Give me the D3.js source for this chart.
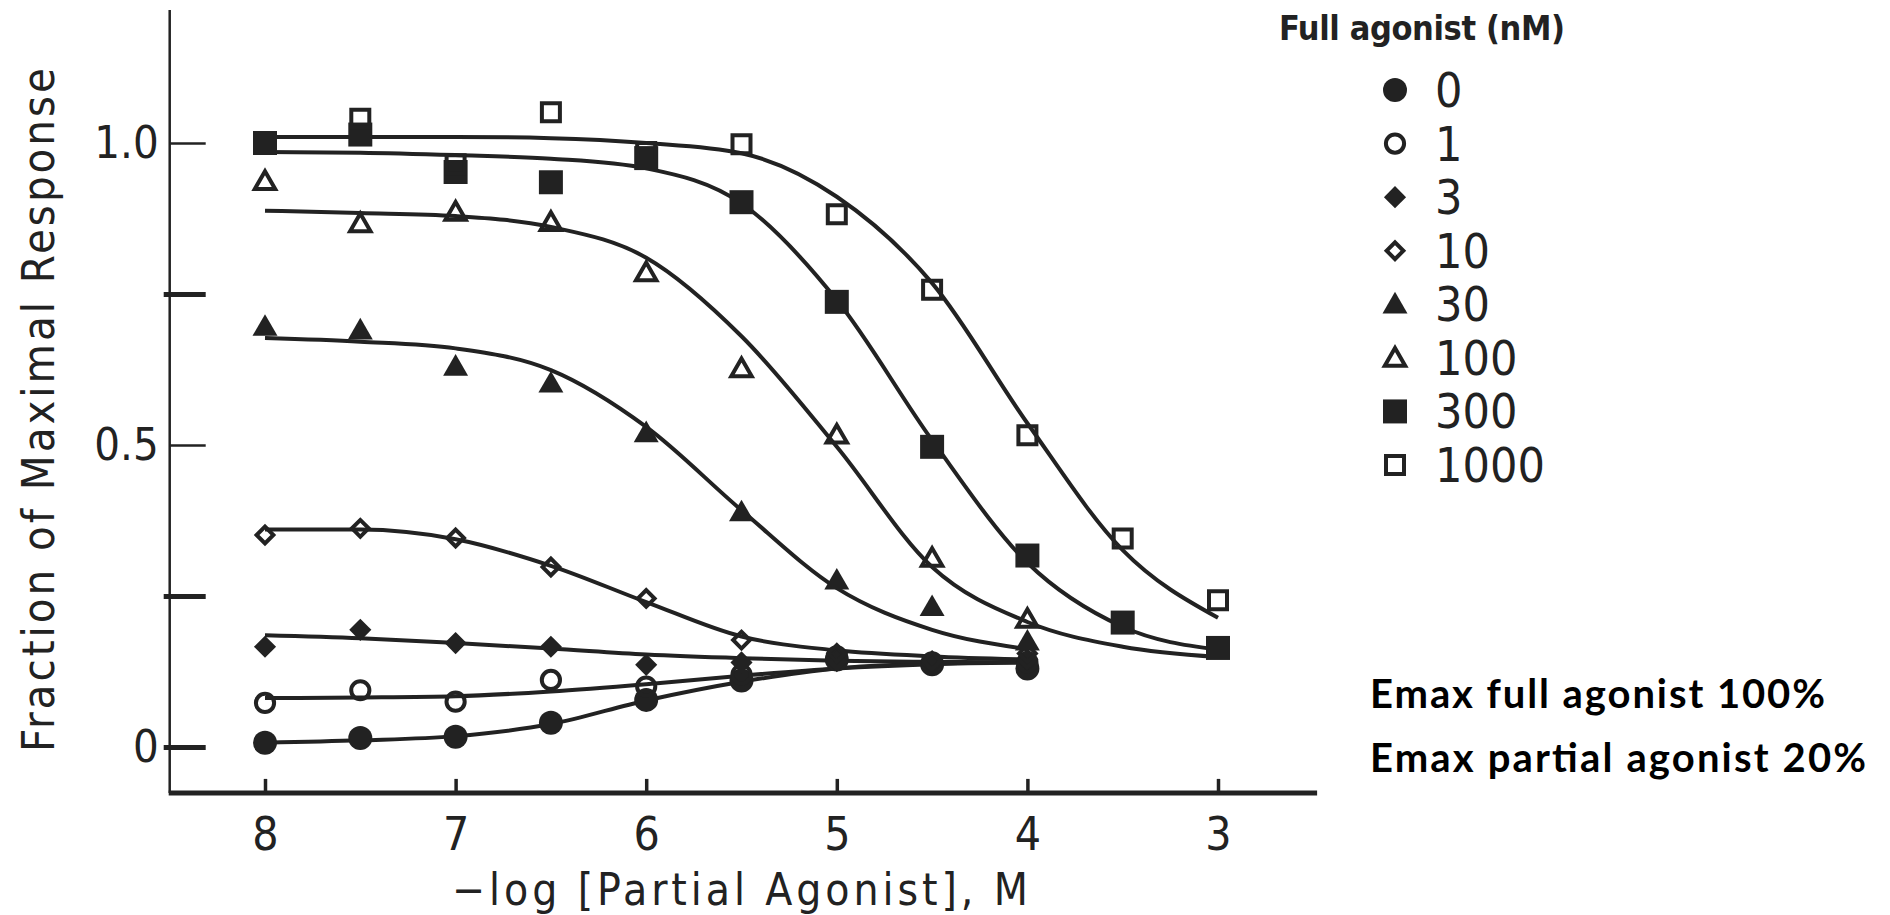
<!DOCTYPE html>
<html>
<head>
<meta charset="utf-8">
<title>Partial agonist curves</title>
<script src="https://d3js.org/d3.v7.min.js"></script>
<style>
  body { margin: 0; background: #fff; }
  svg { display: block; }
  .old { font-family: "DejaVu Sans Condensed", "DejaVu Sans", sans-serif; font-stretch: condensed; fill: #222; }
  .note { font-family: Lato, "Open Sans", sans-serif; font-weight: 700; fill: #000; }
</style>
</head>
<body>
<svg id="chart" width="1890" height="915"></svg>
<script>
// -log [partial agonist] positions
var doses = [8, 7.5, 7, 6.5, 6, 5.5, 5, 4.5, 4, 3.5, 3];
var agonist = ["0", "1", "3", "10", "30", "100", "300", "1000"];

// measured points (fraction of max response), one array per full agonist conc.
var pts0    = [0.007, 0.015, 0.017, 0.040, 0.078, 0.110, 0.145, 0.137, 0.130];
var pts1    = [0.073, 0.094, 0.075, 0.111, 0.100, 0.120, 0.150, 0.140, 0.140];
var pts3    = [0.166, 0.194, 0.172, 0.166, 0.136, 0.140, 0.142, 0.138, 0.145];
var pts10   = [0.351, 0.362, 0.346, 0.298, 0.246, 0.177, 0.155, 0.142, 0.155];
var pts30   = [0.696, 0.690, 0.630, 0.602, 0.520, 0.389, 0.276, 0.232, 0.175];
var pts100  = [0.937, 0.867, 0.886, 0.869, 0.786, 0.627, 0.517, 0.313, 0.212];
var pts300  = [1.000, 1.014, 0.952, 0.935, 0.975, 0.902, 0.737, 0.497, 0.317, 0.206, 0.164];
var pts1000 = [1.000, 1.040, 0.965, 1.051, 0.985, 0.998, 0.882, 0.757, 0.516, 0.345, 0.243];

// fitted curves at the same positions
var fit0    = [0.007, 0.011, 0.018, 0.038, 0.077, 0.108, 0.130, 0.138, 0.141];
var fit1    = [0.081, 0.082, 0.084, 0.092, 0.104, 0.118, 0.130, 0.137, 0.140];
var fit3    = [0.185, 0.180, 0.172, 0.163, 0.153, 0.147, 0.143, 0.141, 0.140];
var fit10   = [0.360, 0.360, 0.344, 0.300, 0.240, 0.183, 0.160, 0.150, 0.145];
var fit30   = [0.677, 0.671, 0.660, 0.624, 0.530, 0.392, 0.263, 0.194, 0.162];
var fit100  = [0.888, 0.884, 0.879, 0.861, 0.810, 0.680, 0.497, 0.298, 0.207, 0.166, 0.149];
var fit300  = [0.985, 0.984, 0.980, 0.974, 0.958, 0.900, 0.740, 0.508, 0.305, 0.199, 0.161];
var fit1000 = [1.010, 1.010, 1.010, 1.008, 1.000, 0.983, 0.911, 0.768, 0.536, 0.326, 0.214];

var xTicks = [8, 7, 6, 5, 4, 3];
var yTicks = [0, 0.25, 0.5, 0.75, 1];
var yTickText = ["0", "", "0.5", "", "1.0"];

var allPts = [pts0, pts1, pts3, pts10, pts30, pts100, pts300, pts1000];
var allFits = [fit0, fit1, fit3, fit10, fit30, fit100, fit300, fit1000];

// marker look per series
var markerType = ["circle", "circle", "diamond", "diamond", "triangle", "triangle", "square", "square"];
var markerOpen = [false, true, false, true, false, true, false, true];

var ink = "#222";
var svg = d3.select("#chart");

var x = d3.scaleLinear().domain([8, 3]).range([265, 1218]);
var y = d3.scaleLinear().domain([0, 1]).range([747, 143]);

// axis lines (longer than the tick range)
svg.append("line")
    .attr("x1", x(8.5)).attr("x2", x(8.5))
    .attr("y1", y(1.22)).attr("y2", y(-0.076))
    .attr("stroke", ink).attr("stroke-width", 2.5);
svg.append("line")
    .attr("x1", x(8.5) - 1).attr("x2", x(2.48))
    .attr("y1", y(-0.076)).attr("y2", y(-0.076))
    .attr("stroke", ink).attr("stroke-width", 5);

// x axis ticks + labels
var xAxis = svg.append("g")
    .attr("transform", "translate(0," + y(-0.076) + ")")
    .call(d3.axisBottom(x).tickValues(xTicks).tickSize(-14).tickPadding(24).tickFormat(d3.format("d")));
xAxis.select(".domain").remove();
xAxis.selectAll("line").attr("stroke", ink).attr("stroke-width", 3.5);
xAxis.selectAll("text").attr("class", "old").style("font-size", "46px");

// y axis ticks + labels
var yAxis = svg.append("g")
    .attr("transform", "translate(" + x(8.5) + ",0)")
    .call(d3.axisLeft(y).tickValues(yTicks).tickSize(-36).tickPadding(11)
        .tickFormat(function(d, i) { return yTickText[i]; }));
yAxis.select(".domain").remove();
yAxis.selectAll("line")
    .attr("stroke", ink)
    .attr("x1", function(d, i) { return yTickText[i] === "0" || yTickText[i] === "" ? -6 : 0; })
    .attr("stroke-width", function(d, i) { return yTickText[i] === "0" || yTickText[i] === "" ? 5 : 2.5; });
yAxis.selectAll("text").attr("class", "old").style("font-size", "45px");

// axis titles
svg.append("text")
    .attr("class", "old")
    .attr("x", 452).attr("y", 905)
    .attr("textLength", 576)
    .style("font-size", "44px")
    .text("\u2212log [Partial Agonist], M");

svg.append("text")
    .attr("class", "old")
    .attr("transform", "translate(54,752) rotate(-90)")
    .attr("textLength", 684)
    .style("font-size", "45px")
    .text("Fraction of Maximal Response");

// symbols
function markerPath(i) {
    var t = markerType[i], open = markerOpen[i];
    var sym = d3.symbol();
    if (t === "circle") sym.type(d3.symbolCircle).size(open ? 260 : 452);
    if (t === "square") sym.type(d3.symbolSquare).size(open ? 324 : 576);
    if (t === "triangle") sym.type(d3.symbolTriangle).size(open ? 180 : 270);
    if (t === "diamond") sym.type(d3.symbolSquare).size(open ? 140 : 245);
    return sym();
}

function drawMarker(sel, i) {
    var p = sel.append("path")
        .attr("d", markerPath(i))
        .attr("fill", markerOpen[i] ? "none" : ink)
        .attr("stroke", ink)
        .attr("stroke-width", markerOpen[i] ? 4 : 0);
    if (markerType[i] === "diamond") p.attr("transform", "rotate(45)");
    if (markerType[i] === "triangle") p.attr("transform", "translate(0,2)");
}

// fitted curves
var line = d3.line()
    .x(function(d, i) { return x(doses[i]); })
    .y(function(d) { return y(d); })
    .curve(d3.curveMonotoneX);

svg.append("g").selectAll("path")
    .data(allFits)
    .enter().append("path")
    .attr("d", line)
    .attr("fill", "none")
    .attr("stroke", ink)
    .attr("stroke-width", 4);

// data points
allPts.forEach(function(series, s) {
    svg.append("g").selectAll("g")
        .data(series)
        .enter().append("g")
        .attr("transform", function(d, i) { return "translate(" + x(doses[i]) + "," + y(d) + ")"; })
        .each(function() { drawMarker(d3.select(this), s); });
});

// legend
var ly = d3.scalePoint().domain(agonist).range([90, 465]);
svg.append("text")
    .attr("class", "old")
    .attr("x", 1279).attr("y", 40)
    .attr("textLength", 286)
    .style("font-size", "34px").style("font-weight", "bold")
    .text("Full agonist (nM)");

var leg = svg.append("g").selectAll("g")
    .data(agonist)
    .enter().append("g")
    .attr("transform", function(d) { return "translate(1395," + ly(d) + ")"; });
leg.each(function(d, i) { drawMarker(d3.select(this), i); });
leg.append("text")
    .attr("class", "old")
    .attr("x", 40).attr("y", 17)
    .style("font-size", "48px")
    .text(function(d) { return d; });

// notes
svg.append("text").attr("class", "note")
    .attr("x", 1370).attr("y", 708)
    .attr("textLength", 455)
    .style("font-size", "40px")
    .text("Emax full agonist 100%");
svg.append("text").attr("class", "note")
    .attr("x", 1370).attr("y", 772)
    .attr("textLength", 496)
    .style("font-size", "40px")
    .text("Emax partial agonist 20%");
</script>
</body>
</html>
